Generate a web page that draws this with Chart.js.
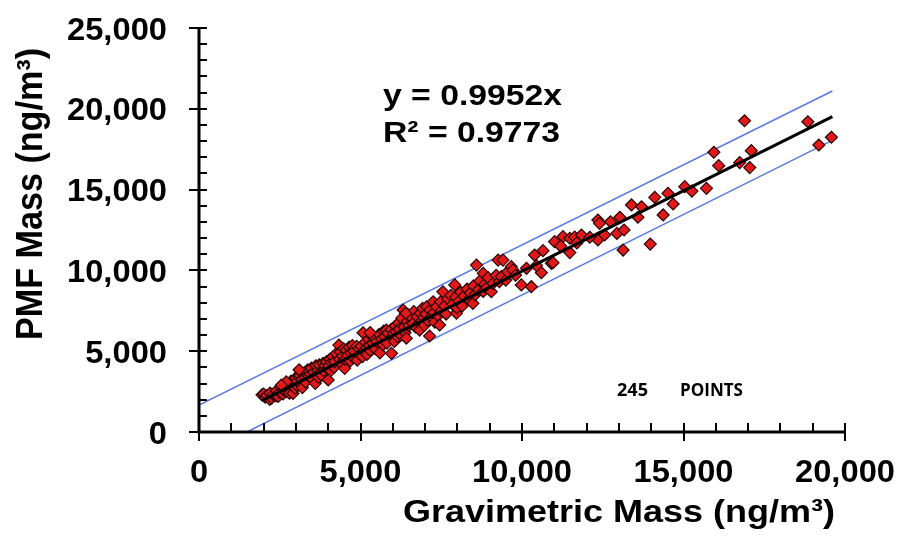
<!DOCTYPE html>
<html>
<head>
<meta charset="utf-8">
<script src="https://cdn.jsdelivr.net/npm/chart.js@4.4.1/dist/chart.umd.min.js"></script>
<style>
  html, body { margin: 0; padding: 0; background: #fff; }
  #wrap { width: 897px; height: 536px; }
</style>
</head>
<body>
<div id="wrap"><canvas id="c" width="897" height="536"></canvas></div>
<script>
// Gravimetric (filter) mass and PMF-reconstructed mass, ng/m3, one entry per sample
const gravimetric = [
  1950, 2000, 2050, 2100, 2190, 2200, 2250, 2300, 2380, 2400, 2450, 2500, 2550, 2600, 2620, 2670, 2700, 2750, 2780, 2800,
  2850, 2880, 2910, 2950, 2980, 3000, 2700, 2550,
  3020, 3050, 3080, 3120, 3150, 3180, 3200, 3250, 3280, 3300, 3330, 3370, 3400, 3450, 3480, 3500, 3550, 3600, 3620, 3650,
  3680, 3700, 3720, 3750, 3800, 3840, 3860, 3900, 3950, 3980, 4000, 3100,
  4020, 4050, 4080, 4100, 4150, 4180, 4200, 4250, 4330, 4350, 4380, 4400, 4450, 4480, 4510, 4530, 4560, 4600, 4650, 4680,
  4700, 4750, 4780, 4800, 4880, 4900, 4950, 4980,
  5020, 5060, 5080, 5100, 5150, 5180, 5200, 5250, 5280, 5300, 5350, 5380, 5440, 5450, 5500, 5580, 5600, 5650, 5700, 5720,
  5750, 5800, 5820, 5850, 5960, 5950, 5980, 5300,
  6020, 6050, 6080, 6100, 6150, 6180, 6200, 6250, 6280, 6320, 6350, 6380, 6420, 6450, 6480, 6500, 6600, 6620, 6650, 6700,
  6750, 6830, 6850, 6900, 6920, 6950, 6980, 6400,
  7020, 7050, 7080, 7140, 7150, 7200, 7250, 7280, 7300, 7350, 7400, 7450, 7480, 7500, 7550, 7600, 7650, 7700, 7800, 7850,
  7920, 7970, 7950, 7980,
  8050, 8100, 8150, 8200, 8300, 8350, 8400, 8480, 8500, 8550, 8590, 8650, 8700, 8800, 8800, 8850, 8900, 8950,
  9050, 9100, 9200, 9260, 9300, 9360, 9410, 9500, 9550, 9670, 9720, 9800, 9980,
  10140, 10290, 10390, 10600, 10650, 10910, 10960, 11010, 11270, 11480, 11480, 11630, 11840, 10450, 11200, 11700,
  12350, 12400, 12350, 12560, 12740, 12940, 13030, 13160, 13130, 13390, 13590, 13700, 13970, 12100,
  14110, 14370, 14520, 14680, 15040, 15260, 15710, 15940,
  16090, 16740, 16890, 17050, 17100, 18850, 19190, 19580
];
const pmf = [
  2300, 2350, 2150, 2250, 2020, 2400, 2100, 2300, 2230, 2550, 2200, 2450, 2750, 2350, 2600, 2850, 2500, 3000, 2650, 2400,
  3150, 2800, 2390, 3050, 2700, 3350, 3100, 2900,
  2900, 3150, 3450, 3530, 3000, 3250, 2750, 3650, 3350, 3100, 3750, 3840, 3450, 3600, 3950, 3300, 3700, 3010, 4100, 3550,
  3800, 3400, 4150, 3700, 3500, 4250, 3800, 4100, 4350, 3900, 3220, 3850,
  4100, 4500, 3800, 4300, 4650, 4000, 4350, 4850, 5380, 4500, 4950, 4250, 4700, 5150, 3940, 4500, 5070, 4750, 5250, 4400,
  4900, 5350, 4600, 5000, 5300, 4450, 5150, 4800,
  5300, 4660, 6140, 5000, 5550, 5200, 4800, 5750, 5350, 5050, 5950, 5500, 5800, 5150, 5600, 6050, 4900, 5750, 5400, 6250,
  5900, 6310, 5500, 6100, 4870, 6350, 5900, 6150,
  6100, 5600, 6550, 6200, 5900, 6750, 6350, 6000, 7050, 7550, 6500, 6150, 5800, 6850, 7250, 6600, 7050, 6700, 7450, 6500,
  7150, 6310, 7350, 6900, 7650, 7100, 6600, 7350,
  7300, 7750, 6900, 5940, 7550, 7100, 8060, 7400, 6800, 7750, 7200, 6620, 8050, 7500, 8680, 7800, 7300, 8250, 8450, 7900,
  9100, 7350, 8350, 7700,
  8100, 8650, 7800, 8400, 8850, 8200, 8600, 7960, 9050, 8500, 10330, 8800, 9350, 9820, 8700, 9150, 8900, 9550,
  8680, 9200, 9700, 10640, 9300, 9610, 10640, 9400, 9900, 10230, 10020, 9700, 9100,
  10130, 8990, 10950, 9860, 11220, 10440, 10480, 11780, 12090, 11990, 11100, 12060, 12190, 10300, 11500, 11700,
  13120, 12910, 11880, 12190, 13010, 12290, 13290, 12500, 11260, 14050, 13290, 13940, 11630, 12050,
  14520, 13430, 14770, 14110, 15180, 14910, 15080, 17310,
  16480, 16670, 19260, 16360, 17410, 19200, 17760, 18240
];

// Least-squares fit through the origin and its reported goodness of fit
const fitSlope = 0.9952;
const fitR2 = 0.9773;
const fitExtent = [1950, 19610];

// Upper and lower envelope lines around the fit
const upperEnvelopeX = [0, 19610];
const upperEnvelopeY = [1670, 21100];
const lowerEnvelopeX = [1480, 19530];
const lowerEnvelopeY = [0, 17970];

// Axis ranges and tick spacing
const xRange = [0, 20000];
const yRange = [0, 25000];
const majorStep = 5000;
const minorStep = 1000;

const pointCount = String(gravimetric.length);

const samples = gravimetric.map((g, i) => ({ x: g, y: pmf[i] }));
const fitLine = fitExtent.map(g => ({ x: g, y: fitSlope * g }));
const upperLine = upperEnvelopeX.map((g, i) => ({ x: g, y: upperEnvelopeY[i] }));
const lowerLine = lowerEnvelopeX.map((g, i) => ({ x: g, y: lowerEnvelopeY[i] }));

const BOLD = '"Liberation Sans", Arial, Helvetica, sans-serif';

// Draw text squeezed or stretched horizontally to a given width
function drawText(ctx, text, x, y, font, width, align, rotate) {
  ctx.save();
  ctx.font = font;
  const w = ctx.measureText(text).width;
  const s = width ? width / w : 1;
  ctx.translate(x, y);
  if (rotate) ctx.rotate(rotate);
  ctx.scale(s, 1);
  ctx.textAlign = align || 'left';
  ctx.textBaseline = 'alphabetic';
  ctx.fillStyle = '#000';
  ctx.fillText(text, 0, 0);
  ctx.restore();
}

const axesPlugin = {
  id: 'axesPlugin',
  afterDatasetsDraw(chart) {
    const { ctx, chartArea: a, scales: { x, y } } = chart;
    ctx.save();
    ctx.strokeStyle = '#000';
    ctx.lineWidth = 2;
    // x-axis ticks: minor ones point into the plot, major ones cross the axis
    for (let v = xRange[0]; v <= xRange[1]; v += minorStep) {
      const px = Math.round(x.getPixelForValue(v));
      const major = v % majorStep === 0;
      ctx.beginPath();
      ctx.moveTo(px, a.bottom + (major ? 9 : 0));
      ctx.lineTo(px, a.bottom - 9);
      ctx.stroke();
    }
    // y-axis ticks
    for (let v = yRange[0]; v <= yRange[1]; v += minorStep) {
      const py = Math.round(y.getPixelForValue(v));
      const major = v % majorStep === 0;
      ctx.beginPath();
      ctx.moveTo(a.left - (major ? 10 : 0), py);
      ctx.lineTo(a.left + 8, py);
      ctx.stroke();
    }
    // axis lines
    ctx.lineWidth = 3;
    ctx.beginPath();
    ctx.moveTo(a.left, a.top);
    ctx.lineTo(a.left, a.bottom);
    ctx.lineTo(a.right, a.bottom);
    ctx.stroke();
    ctx.restore();

    // tick labels
    const tickFont = 'bold 32px ' + BOLD;
    ctx.save();
    ctx.font = tickFont;
    const tickStretch = 100 / ctx.measureText('25,000').width;
    ctx.restore();
    const fmt = v => v.toLocaleString('en-US');
    const widthOf = s => { ctx.save(); ctx.font = tickFont; const w = ctx.measureText(s).width; ctx.restore(); return w * tickStretch; };
    x.ticks.forEach(t => {
      const s = fmt(t.value);
      drawText(ctx, s, x.getPixelForValue(t.value), 482, tickFont, widthOf(s), 'center');
    });
    y.ticks.forEach(t => {
      const s = fmt(t.value);
      drawText(ctx, s, 167, y.getPixelForValue(t.value) + 11.5, tickFont, widthOf(s), 'right');
    });

    // axis titles
    drawText(ctx, 'Gravimetric Mass (ng/m\u00B3)', 619, 522, 'bold 32px ' + BOLD, 432, 'center');
    drawText(ctx, 'PMF Mass (ng/m\u00B3)', 42, 194, 'bold 36px ' + BOLD, 292, 'center', -Math.PI / 2);

    // fit annotation
    drawText(ctx, 'y = ' + fitSlope.toFixed(4) + 'x', 383, 105, 'bold 30px ' + BOLD, 179, 'left');
    drawText(ctx, 'R\u00B2 = ' + fitR2.toFixed(4), 383, 142, 'bold 30px ' + BOLD, 177, 'left');

    // sample count note
    drawText(ctx, pointCount, 617, 396, 'bold 18px "Open Sans", sans-serif', 31, 'left');
    drawText(ctx, 'POINTS', 680, 396, 'bold 18px "Open Sans", sans-serif', 63, 'left');
  }
};

new Chart(document.getElementById('c'), {
  type: 'scatter',
  data: {
    datasets: [
      {
        type: 'line', data: fitLine, borderColor: '#000', borderWidth: 3,
        pointRadius: 0, fill: false, order: 0
      },
      {
        data: samples, pointStyle: 'rectRot', pointRadius: 6,
        backgroundColor: '#e2181b', borderColor: '#2a0404', borderWidth: 1.2, order: 1
      },
      {
        type: 'line', data: upperLine, borderColor: '#5a7be6', borderWidth: 1.5,
        pointRadius: 0, fill: false, order: 2
      },
      {
        type: 'line', data: lowerLine, borderColor: '#5a7be6', borderWidth: 1.5,
        pointRadius: 0, fill: false, order: 2
      }
    ]
  },
  options: {
    responsive: false,
    animation: false,
    devicePixelRatio: 1,
    layout: { padding: { top: 28, right: 52, left: 0, bottom: 0 } },
    plugins: { legend: { display: false }, tooltip: { enabled: false } },
    scales: {
      x: {
        type: 'linear', min: xRange[0], max: xRange[1],
        ticks: { display: false, stepSize: majorStep },
        grid: { display: false }, border: { display: false },
        afterFit(s) { s.height = 104; }
      },
      y: {
        type: 'linear', min: yRange[0], max: yRange[1],
        ticks: { display: false, stepSize: majorStep },
        grid: { display: false }, border: { display: false },
        afterFit(s) { s.width = 199; }
      }
    }
  },
  plugins: [axesPlugin]
});
</script>
</body>
</html>
